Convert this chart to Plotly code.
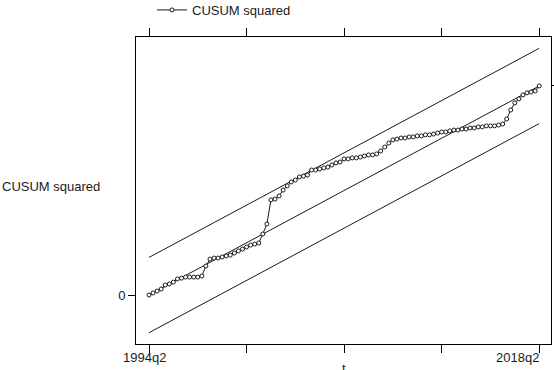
import plotly.graph_objects as go

# quarters from 1994q2 to 2018q2 (index 0..96)
start_year, start_q = 1994, 2
n_obs = 97
quarter_labels = []
for k in range(n_obs):
    q0 = start_q - 1 + k
    quarter_labels.append(f"{start_year + q0 // 4}q{q0 % 4 + 1}")
t_index = list(range(n_obs))

cusum_sq = [
    0.000, 0.010, 0.019, 0.029, 0.048, 0.053, 0.062, 0.077, 0.081, 0.086,
    0.086, 0.086, 0.086, 0.091, 0.139, 0.172, 0.177, 0.177, 0.182, 0.187,
    0.191, 0.201, 0.211, 0.220, 0.230, 0.239, 0.244, 0.249, 0.292, 0.340,
    0.455, 0.459, 0.474, 0.502, 0.522, 0.541, 0.550, 0.565, 0.569, 0.574,
    0.598, 0.598, 0.603, 0.608, 0.612, 0.622, 0.632, 0.636, 0.651, 0.651,
    0.656, 0.656, 0.660, 0.665, 0.670, 0.670, 0.675, 0.689, 0.708, 0.727,
    0.742, 0.746, 0.751, 0.751, 0.756, 0.756, 0.761, 0.761, 0.766, 0.766,
    0.770, 0.775, 0.780, 0.780, 0.785, 0.789, 0.789, 0.794, 0.794, 0.799,
    0.799, 0.804, 0.804, 0.809, 0.809, 0.809, 0.813, 0.818, 0.842, 0.885,
    0.919, 0.938, 0.957, 0.967, 0.971, 0.976, 1.000,
]

# reference lines: endpoints at first and last quarter
line_x = [0, 96]
expected = [0.0, 1.0]
upper = [0.18, 1.18]
lower = [-0.18, 0.82]

tick_vals = [0, 24, 48, 72, 96]
tick_text = ["1994q2", "", "", "", "2018q2"]

FONT = "Liberation Sans, Arial, sans-serif"
FS = 13
fig = go.Figure()
for ys in (upper, expected, lower):
    fig.add_trace(go.Scatter(x=line_x, y=ys, mode="lines",
                             line=dict(color="#1a1a1a", width=1),
                             showlegend=False, hoverinfo="skip"))
fig.add_trace(go.Scatter(
    x=t_index, y=cusum_sq, mode="lines+markers", name="CUSUM squared",
    line=dict(color="#1a1a1a", width=1),
    marker=dict(symbol="circle", size=4, color="white",
                line=dict(color="#1a1a1a", width=1)),
    text=quarter_labels, hovertemplate="%{text}: %{y:.3f}<extra></extra>"))
# invisible trace on right axis for the right-hand tick
fig.add_trace(go.Scatter(x=[0], y=[0], yaxis="y2", mode="markers",
                         marker=dict(opacity=0), showlegend=False,
                         hoverinfo="skip"))

# x tick labels drawn as annotations so they sit where the reference puts them
label_shift = {0: ("center", -5), 4: ("right", 2)}
x_labels = []
for k, (tv, tt) in enumerate(zip(tick_vals, tick_text)):
    if not tt:
        continue
    anchor, shift = label_shift.get(k, ("center", 0))
    x_labels.append(dict(text=tt, x=tv, xref="x", y=0, yref="paper",
                         xanchor=anchor, xshift=shift, yanchor="top",
                         yshift=-4, showarrow=False, font=dict(size=FS)))

yr = [-0.234, 1.234]
fig.update_layout(
    width=554, height=370,
    margin=dict(l=136, r=3, t=37, b=26, autoexpand=False),
    paper_bgcolor="white", plot_bgcolor="white",
    font=dict(family=FONT, size=FS, color="#1a1a1a"),
    xaxis=dict(range=[-3.2, 98.9], tickvals=tick_vals, showticklabels=False,
               ticks="outside", ticklen=8, tickcolor="black", tickwidth=1,
               showline=True, linecolor="black", linewidth=1, mirror="ticks",
               showgrid=False, zeroline=False, automargin=False),
    yaxis=dict(range=yr, tickvals=[0], ticktext=["0"], ticks="outside",
               ticklen=7, tickcolor="black", showline=True, linecolor="black",
               linewidth=1, mirror=True, showgrid=False, zeroline=False,
               tickfont=dict(size=FS), automargin=False),
    yaxis2=dict(range=yr, overlaying="y", side="right", tickvals=[1],
                showticklabels=False, ticks="outside", ticklen=7,
                tickcolor="black", showgrid=False, zeroline=False,
                showline=False, automargin=False),
    showlegend=True,
    legend=dict(orientation="h", x=16/415, xanchor="left", y=1.088,
                yanchor="middle", font=dict(size=FS), bgcolor="rgba(0,0,0,0)"),
    annotations=x_labels + [
        dict(text="CUSUM squared", xref="paper", yref="paper",
             x=-136/415, xanchor="left", y=(344-186)/307, yanchor="middle",
             showarrow=False, font=dict(size=FS)),
        dict(text="t", xref="paper", yref="paper", x=0.5, xanchor="center",
             y=-15/307, yanchor="top", showarrow=False, font=dict(size=FS)),
    ],
)
fig.write_html("out.html", config={"displayModeBar": False},
               post_script="document.body.style.margin='0';")
